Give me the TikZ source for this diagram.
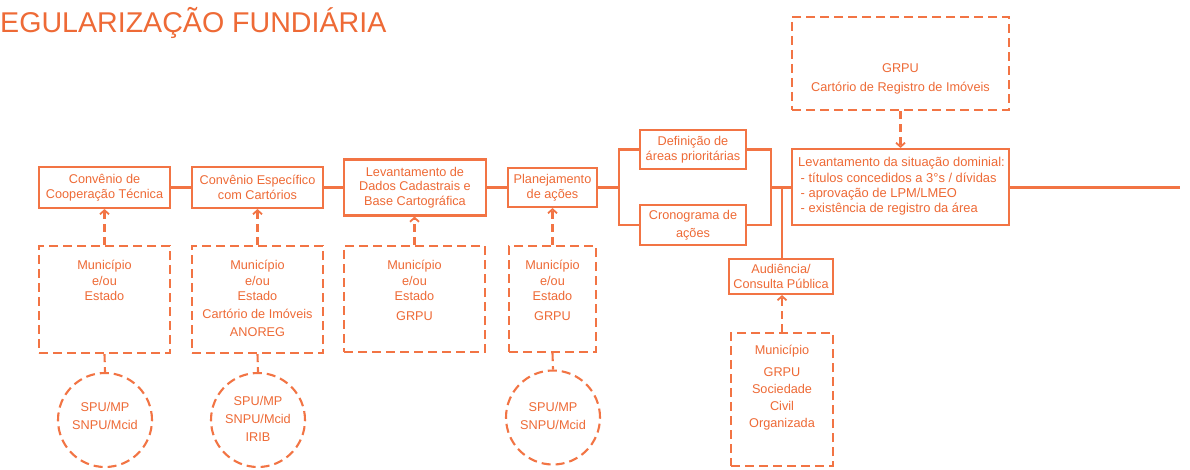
\documentclass[tikz,border=0pt]{standalone}
\usepackage{fontspec}
\setmainfont{Liberation Sans}
\usetikzlibrary{arrows.meta}
\definecolor{orng}{HTML}{EE6A36}
\definecolor{orngline}{HTML}{F27444}
\tikzset{
  solidbox/.style={draw=orngline, line width=2.1pt, inner sep=0pt, text=orng, align=center,
    font=\fontsize{12.7}{14.5}\selectfont},
  dashbox/.style={draw=orngline, line width=2.1pt, dash pattern=on 9pt off 5pt, inner sep=0pt},
  dashcirc/.style={draw=orngline, line width=2.1pt, dash pattern=on 9pt off 5pt, circle, inner sep=0pt, minimum size=94pt},
  lbl/.style={text=orng, align=center, inner sep=0pt, font=\fontsize{12.7}{15.5}\selectfont},
  conn/.style={draw=orngline, line width=2.1pt},
  dconn/.style={draw=orngline, line width=2.1pt, dash pattern=on 8pt off 5pt},
  darrow/.style={dconn, -{Straight Barb[length=4pt,width=9pt,line width=1.8pt]}}
}
\begin{document}
\begin{tikzpicture}[x=1pt,y=-1pt]
\useasboundingbox (0,0) rectangle (1190,470);
\fill[white] (0,0) rectangle (1190,470);
\node[anchor=base west, inner sep=0pt, text=orng, font=\fontsize{28.6}{30}\selectfont] (title) at (0,33) {EGULARIZAÇÃO FUNDIÁRIA};

% main solid boxes
\node[solidbox, minimum width=131pt, minimum height=41pt] (b1) at (104.5,187.5) {Convênio de\\Cooperação Técnica};
\node[solidbox, minimum width=131pt, minimum height=41pt] (b2) at (257.5,187.5) {Convênio Específico\\com Cartórios};
\node[solidbox, minimum width=142pt, minimum height=56pt] (b3) at (415,187.5) {Levantamento de\\Dados Cadastrais e\\Base Cartográfica};
\node[solidbox, minimum width=89pt, minimum height=39pt] (b4) at (552.5,187.5) {Planejamento\\de ações};
\node[solidbox, minimum width=106pt, minimum height=39pt] (def) at (693,149.5) {Definição de\\áreas prioritárias};
\node[solidbox, minimum width=106pt, minimum height=40pt, font=\fontsize{12.7}{18}\selectfont] (cron) at (693,225) {Cronograma de\\ações};
\node[solidbox, minimum width=217pt, minimum height=76pt] (sit) at (900.5,187) {};
\node[lbl, anchor=west, align=left, font=\fontsize{12.9}{15.3}\selectfont] (sittext) at (798,186.5) {Levantamento da situação dominial:\\\hspace{2.5pt}- títulos concedidos a 3°s / dívidas\\\hspace{2.5pt}- aprovação de LPM/LMEO\\\hspace{2.5pt}- existência de registro da área};
\node[solidbox, minimum width=104pt, minimum height=35pt] (aud) at (781,276.5) {Audiência/\\Consulta Pública};

% dashed boxes
\node[dashbox, minimum width=131pt, minimum height=107pt] (d1) at (104.5,299.5) {};
\node[dashbox, minimum width=131pt, minimum height=107pt] (d2) at (257.5,299.5) {};
\node[dashbox, minimum width=141pt, minimum height=106pt] (d3) at (414.5,299) {};
\node[dashbox, minimum width=87pt, minimum height=106pt] (d4) at (552.5,299) {};
\node[dashbox, minimum width=102pt, minimum height=133pt] (d5) at (782,399.5) {};
\node[dashbox, minimum width=217pt, minimum height=93pt] (dt) at (900.5,63.5) {};

\node[lbl] (d1t) at (104.5,280.5) {Município\\e/ou\\Estado};
\node[lbl] (d2t) at (257.5,298.5) {Município\\e/ou\\Estado\\[2.5pt]Cartório de Imóveis\\[2.5pt]ANOREG};
\node[lbl] (d3t) at (414.5,290.5) {Município\\e/ou\\Estado\\[4.5pt]GRPU};
\node[lbl] (d4t) at (552.5,290.5) {Município\\e/ou\\Estado\\[4.5pt]GRPU};
\node[lbl, font=\fontsize{12.7}{17.2}\selectfont] (d5t) at (782,388) {Município\\[4pt]GRPU\\Sociedade\\Civil\\Organizada};
\node[lbl, font=\fontsize{12.7}{19}\selectfont] (dtt) at (900.5,78.5) {GRPU\\Cartório de Registro de Imóveis};

% circles
\node[dashcirc] (c1) at (105,420) {};
\node[dashcirc] (c2) at (258,420) {};
\node[dashcirc] (c3) at (553,417.5) {};
\node[lbl, font=\fontsize{12.7}{18}\selectfont] (c1t) at (105,416) {SPU/MP\\SNPU/Mcid};
\node[lbl, font=\fontsize{12.7}{18}\selectfont] (c2t) at (258,419) {SPU/MP\\SNPU/Mcid\\IRIB};
\node[lbl, font=\fontsize{12.7}{18}\selectfont] (c3t) at (553,416) {SPU/MP\\SNPU/Mcid};

% solid connectors
\coordinate (jl) at (619,187.5);
\coordinate (jr) at (771,187.5);
\coordinate (ja) at (782,187.5);
\coordinate (endR) at (1180,187.5);
\draw[conn] (b1.east) -- (b2.west);
\draw[conn] (b2.east) -- (b3.west);
\draw[conn] (b3.east) -- (b4.west);
\draw[conn] (b4.east) -- (jl);
\draw[conn] (def.west) -| (jl) |- (cron.west);
\draw[conn] (def.east) -| (jr) |- (cron.east);
\draw[conn] (jr) -- (jr -| sit.west);
\draw[conn] (ja) -- (ja |- aud.north);
\draw[conn] (sit.east |- endR) -- (endR);

% dashed arrows
\draw[darrow] (d1.north) -- (b1.south);
\draw[darrow] (d2.north) -- (b2.south);
\draw[darrow] (d3.north) -- (d3.north |- b3.south);
\draw[darrow] (d4.north) -- (b4.south);
\draw[darrow] (d5.north) -- (d5.north |- aud.south);
\draw[darrow] (dt.south) -- (sit.north);

% dashed links to circles
\draw[dconn] (d1.south) -- (c1.north);
\draw[dconn] (d2.south) -- (c2.north);
\draw[dconn] (d4.south) -- (c3.north);
\end{tikzpicture}
\end{document}
